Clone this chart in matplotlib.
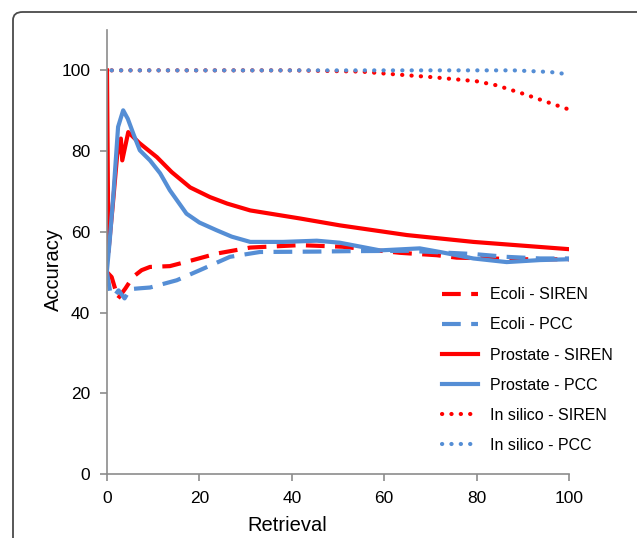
import matplotlib
matplotlib.use("Agg")
import matplotlib.pyplot as plt
from matplotlib.patches import FancyBboxPatch

plt.rcParams['font.family'] = ['Liberation Sans', 'DejaVu Sans']

RED = '#FF0000'
BLUE = '#558ED5'

# Ecoli
ecoli_siren_x = [0, 1, 2.4, 4, 5.6, 7.5, 9.3, 13.6, 18.6, 23.7, 31, 41.8, 51, 63.4, 71.4, 75.7, 82.9, 90, 100]
ecoli_siren_y = [50, 48.8, 43.5, 46, 48.8, 50.5, 51.3, 51.5, 53, 54.6, 56.1, 56.7, 56.3, 54.8, 54.2, 53.6, 53.4, 53.2, 53.2]
ecoli_pcc_x = [0, 0.7, 1.5, 2.5, 3.8, 5, 7, 9.3, 15.1, 20.1, 26.6, 33.1, 45.4, 51.9, 65, 79.3, 86.5, 93.7, 100]
ecoli_pcc_y = [50, 45, 44, 45.5, 43.5, 45.8, 46, 46.2, 48, 50.5, 53.8, 55, 55.1, 55.2, 55.3, 54.5, 53.8, 53.4, 53.4]

# Prostate
prostate_siren_x = [0, 0.3, 1.2, 2.2, 3.0, 3.3, 4.6, 7, 10.8, 14, 18, 22.3, 26, 31, 41.8, 50.4, 64.9, 79.3, 100]
prostate_siren_y = [100, 55, 66, 79, 83.1, 77.7, 84.7, 82, 78.5, 74.8, 71, 68.6, 67, 65.3, 63.3, 61.6, 59.2, 57.5, 55.7]
prostate_pcc_x = [0, 0.6, 1.4, 2.4, 3.5, 4.5, 5.7, 7.1, 9.3, 11.5, 13.6, 17.2, 20, 23.7, 27, 31, 38.1, 45.4, 50.4, 59.1, 67.7, 72.1, 79.3, 86.5, 93.7, 100]
prostate_pcc_y = [50.5, 58, 69.5, 86, 90.1, 88, 84.3, 80.2, 77.7, 74.5, 70.3, 64.5, 62.3, 60.4, 58.8, 57.5, 57.5, 57.8, 57.3, 55.4, 55.9, 55, 53.4, 52.5, 53, 53.2]

# In silico
silico_siren_x = [1, 20, 40, 55, 60.2, 70.6, 80, 84.3, 90.1, 95.9, 100]
silico_siren_y = [100, 100, 100, 99.7, 99.2, 98.3, 97.3, 96.3, 94.2, 91.9, 90.3]
silico_pcc_x = [1, 20, 40, 60, 80, 88, 95.9, 100]
silico_pcc_y = [100, 100, 100, 100, 100, 100, 99.6, 99]

fig = plt.figure(figsize=(6.37, 5.38), dpi=100)

border = FancyBboxPatch((13 / 637, -0.1), 640 / 637, (538 - 12) / 538 + 0.1,
                        boxstyle="round,pad=0,rounding_size=0.015",
                        transform=fig.transFigure, fill=False,
                        edgecolor='#4a4a4a', linewidth=1.3, clip_on=False)
fig.patches.append(border)

ax = fig.add_axes([107 / 637, 1 - 474 / 538, (569 - 107) / 637, (474 - 30) / 538])

ax.plot(ecoli_siren_x, ecoli_siren_y, color=RED, lw=3, dashes=(4.5, 2.5),
        dash_capstyle='butt', label='Ecoli - SIREN')
ax.plot(ecoli_pcc_x, ecoli_pcc_y, color=BLUE, lw=3, dashes=(4.5, 2.5),
        dash_capstyle='butt', label='Ecoli - PCC')
ax.plot(prostate_siren_x, prostate_siren_y, color=RED, lw=3,
        solid_joinstyle='round', label='Prostate - SIREN')
ax.plot(prostate_pcc_x, prostate_pcc_y, color=BLUE, lw=3,
        solid_joinstyle='round', label='Prostate - PCC')
ax.plot(silico_siren_x, silico_siren_y, color=RED, lw=3, dashes=(0.05, 2.2),
        dash_capstyle='round', label='In silico - SIREN')
ax.plot(silico_pcc_x, silico_pcc_y, color=BLUE, lw=3, dashes=(0.05, 2.2),
        dash_capstyle='round', label='In silico - PCC')

ax.set_xlim(0, 100)
ax.set_ylim(0, 110)
ax.set_xticks(range(0, 101, 20))
ax.set_yticks(range(0, 101, 20))
for s in ['top', 'right']:
    ax.spines[s].set_visible(False)
for s in ['left', 'bottom']:
    ax.spines[s].set_color('#8c8c8c')
    ax.spines[s].set_linewidth(1.2)
ax.tick_params(direction='out', length=5, width=1.2, color='#8c8c8c',
               labelsize=12.5, labelcolor='black', pad=7)
ax.set_xlabel('Retrieval', fontsize=14.5, va='center')
ax.set_ylabel('Accuracy', fontsize=14.5, va='center')
ax.xaxis.set_label_coords(0.39, -0.115)
ax.yaxis.set_label_coords(-0.115, 0.46)

ax.legend(loc='center left', bbox_to_anchor=((428 - 107) / 462, 0.234),
          frameon=False, fontsize=11.5, handlelength=2.2, labelspacing=0.95,
          handletextpad=0.8)

fig.savefig('out.png', dpi=100)
